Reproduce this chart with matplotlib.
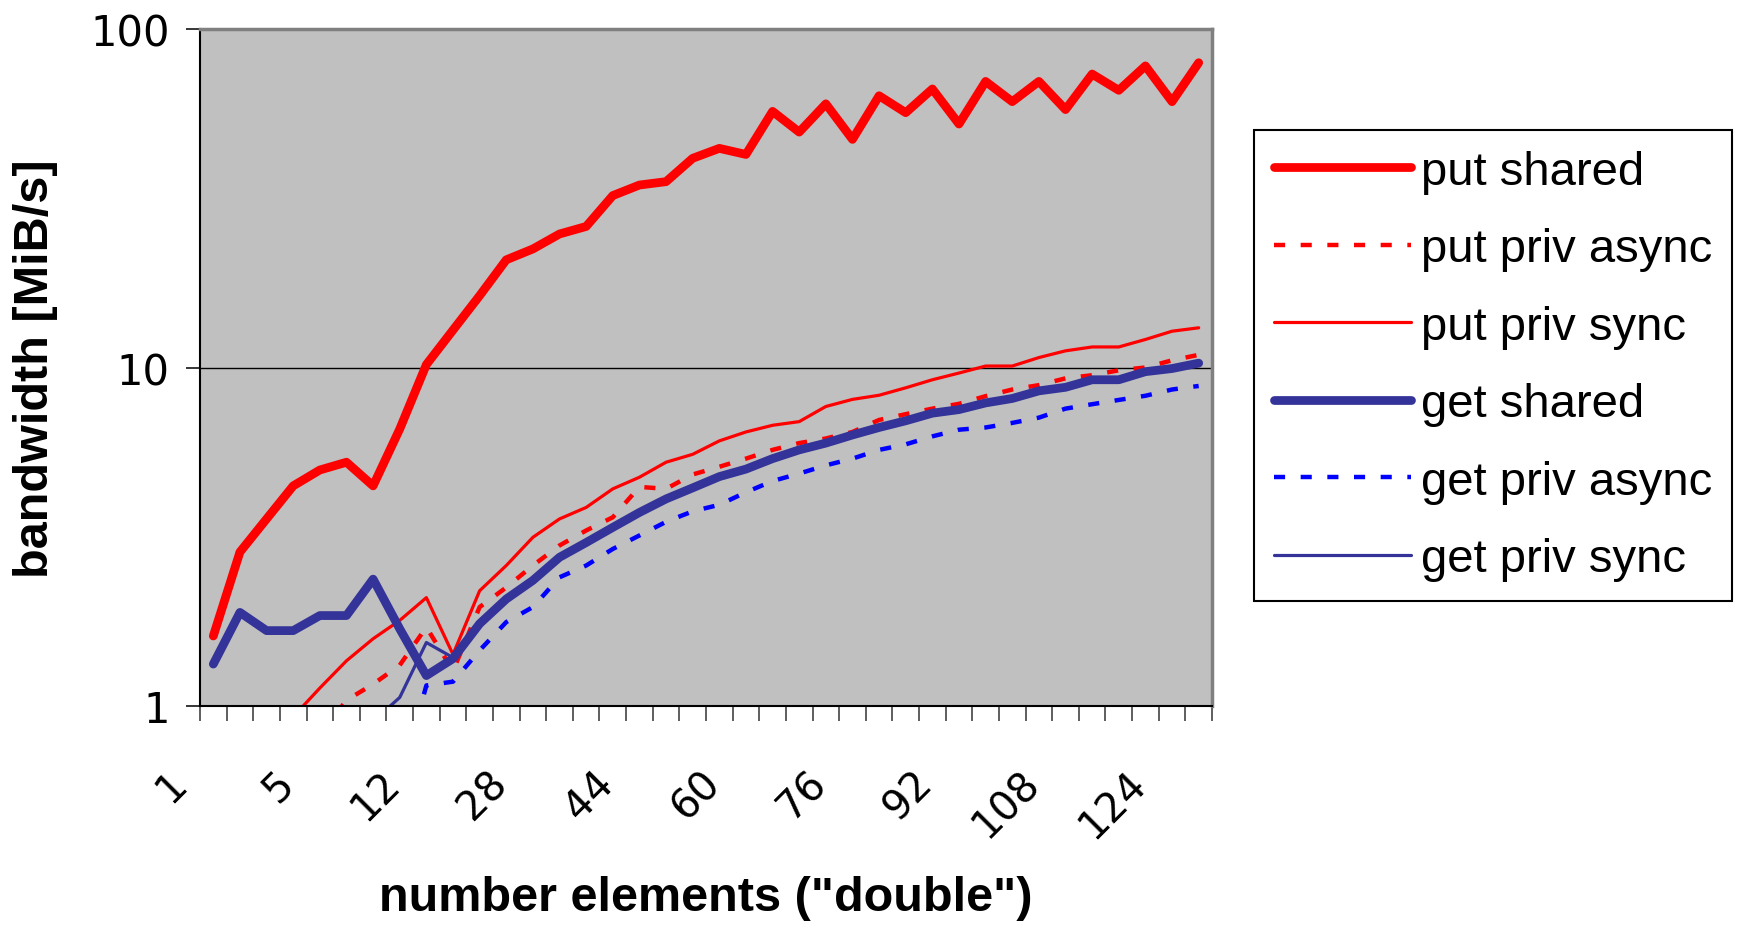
import matplotlib.pyplot as plt
from matplotlib.ticker import NullLocator
from matplotlib.transforms import ScaledTranslation

# message sizes (number of doubles), one category each
sizes = [1, 2, 3, 4, 5, 6, 8, 10, 12, 16, 20, 24, 28, 32, 36, 40, 44, 48, 52,
         56, 60, 64, 68, 72, 76, 80, 84, 88, 92, 96, 100, 104, 108, 112, 116,
         120, 124, 128]

# bandwidth in MiB/s (values below 1 are off the chart)
put_shared = [1.61, 2.85, 3.57, 4.47, 4.98, 5.25, 4.47, 6.58, 10.2, 12.9,
              16.3, 20.8, 22.4, 24.8, 26.1, 32.2, 34.6, 35.4, 41.5, 44.4,
              42.6, 57.1, 49.6, 60.1, 47.2, 63.5, 56.6, 66.5, 52.4, 70.0,
              61.0, 70.0, 57.8, 73.6, 65.9, 77.8, 61.0, 79.5]
put_async = [0.3, 0.45, 0.6, 0.7, 0.82, 1.04, 1.16, 1.32, 1.71, 1.27,
             1.96, 2.24, 2.60, 2.98, 3.30, 3.61, 4.44, 4.38, 4.83, 5.09,
             5.38, 5.71, 5.98, 6.17, 6.45, 7.0, 7.28, 7.56, 7.81, 8.23,
             8.61, 8.87, 9.29, 9.49, 9.81, 10.0, 10.5, 10.9]
put_sync = [0.35, 0.55, 0.75, 0.93, 1.13, 1.36, 1.58, 1.79, 2.09, 1.42,
            2.19, 2.60, 3.15, 3.57, 3.86, 4.38, 4.74, 5.25, 5.54, 6.07,
            6.45, 6.75, 6.92, 7.67, 8.05, 8.28, 8.71, 9.20, 9.63, 10.1,
            10.1, 10.7, 11.2, 11.5, 11.5, 12.1, 12.8, 13.1]
get_shared = [1.33, 1.89, 1.67, 1.67, 1.85, 1.85, 2.37, 1.69, 1.23, 1.38,
              1.75, 2.07, 2.35, 2.75, 3.04, 3.37, 3.73, 4.09, 4.41, 4.76,
              5.01, 5.38, 5.71, 5.98, 6.32, 6.65, 6.96, 7.33, 7.51, 7.86,
              8.10, 8.53, 8.74, 9.20, 9.20, 9.72, 9.93, 10.3]
get_async = [0.2, 0.2, 0.22, 0.22, 0.25, 0.25, 0.3, 0.6, 1.15, 1.18,
             1.46, 1.77, 1.96, 2.40, 2.60, 2.91, 3.19, 3.50, 3.76, 3.93,
             4.28, 4.62, 4.86, 5.14, 5.38, 5.71, 5.93, 6.26, 6.55, 6.65,
             6.86, 7.11, 7.56, 7.79, 8.02, 8.25, 8.61, 8.82]
get_sync = [0.5, 0.55, 0.6, 0.65, 0.7, 0.8, 0.9, 1.06, 1.54, 1.39,
            1.72, 2.04, 2.32, 2.72, 3.0, 3.33, 3.69, 4.05, 4.37, 4.71,
            4.96, 5.33, 5.66, 5.92, 6.26, 6.58, 6.9, 7.26, 7.44, 7.79,
            8.03, 8.45, 8.66, 9.11, 9.12, 9.63, 9.84, 10.2]

fig = plt.figure(figsize=(17.4, 9.29), dpi=100)
ax = fig.add_axes([200 / 1740, 1 - 707 / 929, 1012 / 1740, 677 / 929])
ax.set_facecolor('#C0C0C0')

x = list(range(len(sizes)))
solid = dict(solid_capstyle='round', solid_joinstyle='round')
ax.plot(x, put_shared, color='#FF0000', lw=6.3, label='put shared', **solid)
ax.plot(x, put_async, color='#FF0000', lw=3.2, dashes=(2.5, 3.5),
        label='put priv async')
ax.plot(x, put_sync, color='#FF0000', lw=2.3, label='put priv sync', **solid)
ax.plot(x, get_shared, color='#333399', lw=6.3, label='get shared', **solid)
ax.plot(x, get_async, color='#0000FF', lw=3.2, dashes=(2.5, 3.5),
        label='get priv async')
ax.plot(x, get_sync, color='#333399', lw=2.3, label='get priv sync', **solid)

ax.set_yscale('log')
ax.set_ylim(1, 100)
ax.set_xlim(-0.5, len(sizes) - 0.5)
ax.set_yticks([1, 10, 100], ['1', '10', '100'])
ax.yaxis.set_minor_locator(NullLocator())
ax.tick_params(axis='y', length=10, width=1.1, pad=12, labelsize=30)
ax.grid(axis='y', color='black', lw=1)

# tick marks between categories, labels on every 4th category
ax.set_xticks([i - 0.5 for i in range(len(sizes) + 1)], [])
ax.tick_params(axis='x', length=11, width=1.1, color='#333333')
lab_tr = ax.get_xaxis_transform() + ScaledTranslation(-0.32, -0.71, fig.dpi_scale_trans)
for i in range(0, len(sizes), 4):
    ax.text(i, 0, str(sizes[i]), transform=lab_tr, rotation=45,
            rotation_mode='anchor', ha='right', va='center', fontsize=29)

for s in ['top', 'right']:
    ax.spines[s].set_color('#808080')
    ax.spines[s].set_linewidth(2.5)
for s in ['left', 'bottom']:
    ax.spines[s].set_color('black')
    ax.spines[s].set_linewidth(1.5)

lbl = dict(family='Liberation Sans', weight='bold', size=35)
ax.set_xlabel('number elements ("double")', va='center', **lbl)
ax.xaxis.set_label_coords(0.5, (707 - 899) / 677)
ax.set_ylabel('bandwidth [MiB/s]', va='center', **lbl)
ax.yaxis.set_label_coords((36 - 200) / 1012, 0.5)

leg = ax.legend(loc='upper left', bbox_to_anchor=(1254 / 1740, 1 - 131 / 929),
                bbox_transform=fig.transFigure, borderaxespad=0,
                prop={'family': 'Liberation Sans', 'size': 34},
                handlelength=2.9, handletextpad=0.21, borderpad=0.42,
                labelspacing=0.71, fancybox=False, edgecolor='black',
                framealpha=1)
leg.get_frame().set_linewidth(1.5)

fig.savefig('out.png', dpi=100)
